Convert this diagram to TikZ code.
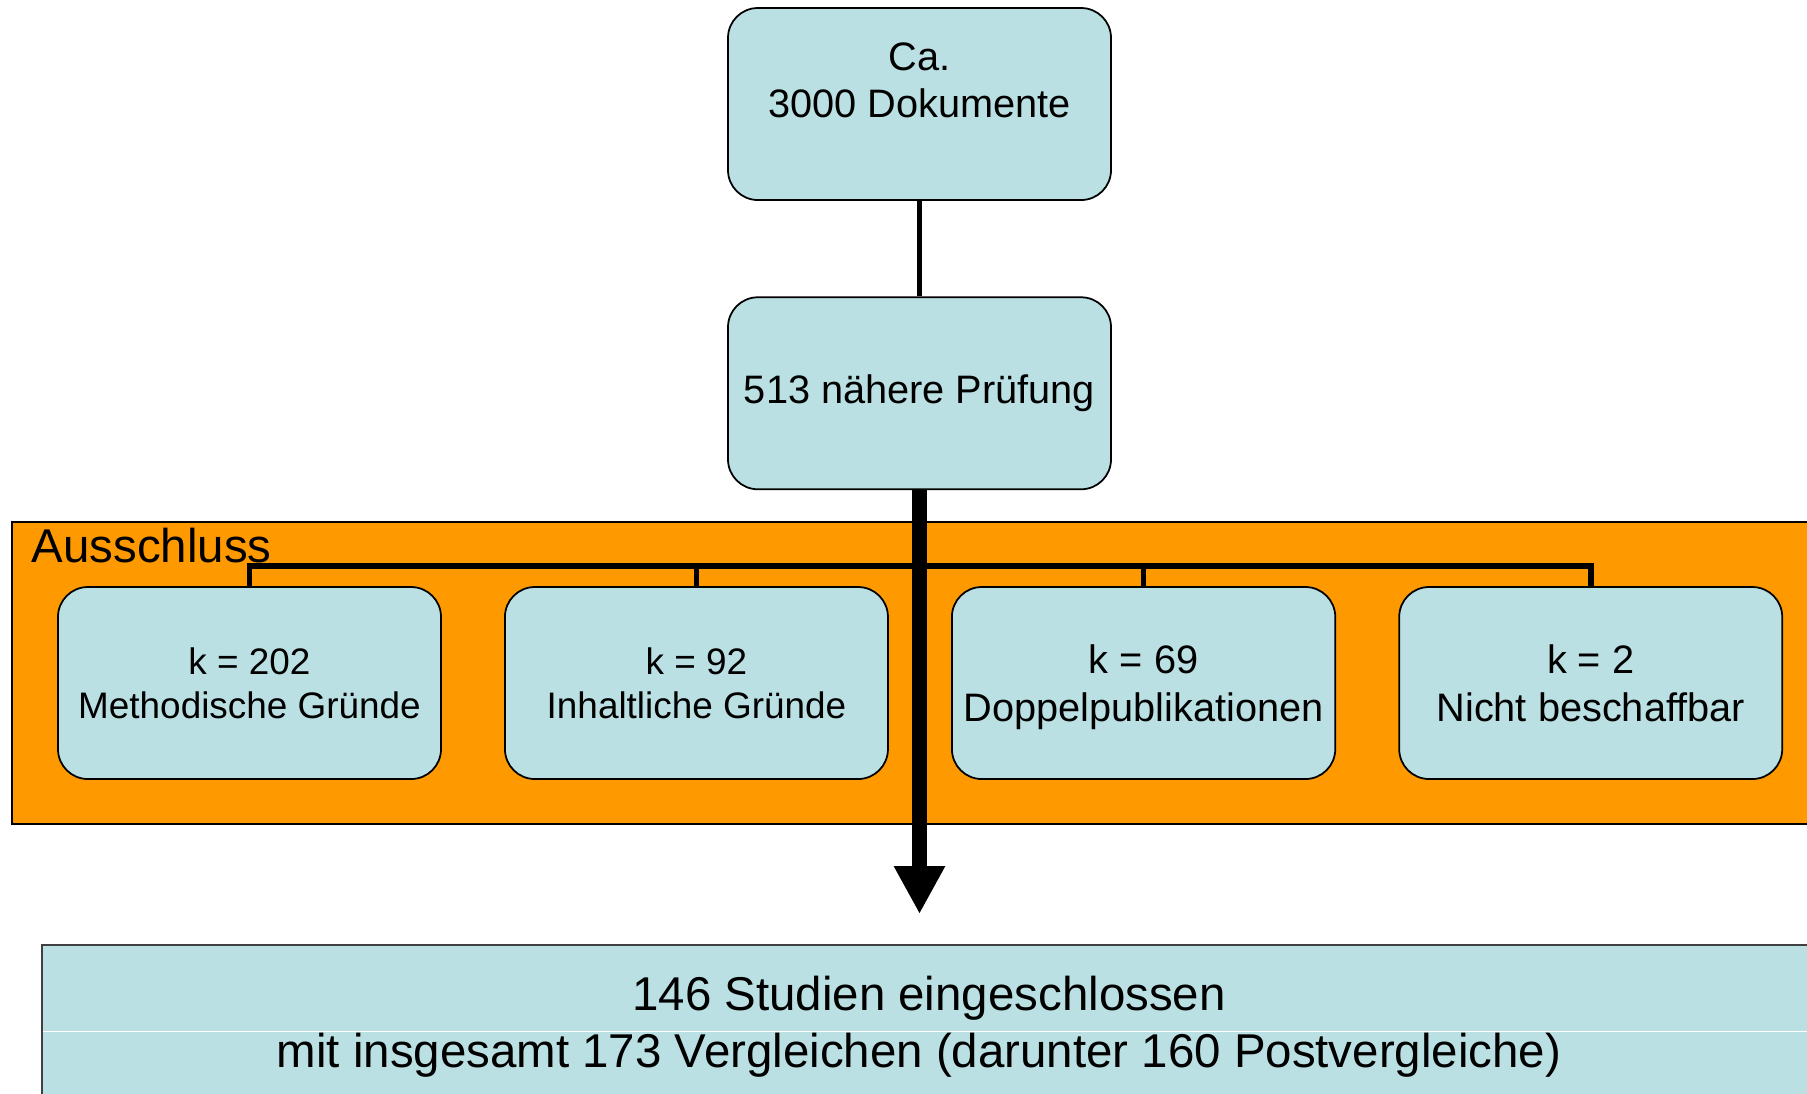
\documentclass[tikz,border=0pt]{standalone}
\usepackage{fontspec}
\setmainfont{Liberation Sans}
\usetikzlibrary{positioning,arrows.meta}
\definecolor{boxblue}{HTML}{BAE0E3}
\definecolor{exclorange}{HTML}{FF9900}

\begin{document}
\begin{tikzpicture}[
  stage/.style={draw, fill=boxblue, rounded corners=8.5pt, minimum width=3.83cm, minimum height=1.92cm, align=center, line width=0.5pt, font=\fontsize{11.3}{13.5}\selectfont},
  reason/.style={stage, text depth=0pt},
  reasonsm/.style={reason, font=\fontsize{10.5}{12.6}\selectfont},
  big/.style={font=\fontsize{13.5}{16}\selectfont, inner sep=0pt},
  tree/.style={line width=1.6pt},
  flow/.style={line width=4.4pt, -{Triangle[width=0.48cm, length=0.48cm]}},
  node distance=0.955cm]
  \clip (0,0) rectangle (18.07,-10.93);
  % Ausschluss-Bereich
  \draw[fill=exclorange, line width=0.4pt] (0.12,-5.22) rectangle (18.4,-8.24);
  \node[big, anchor=base west] (aus) at (0.31,-5.62) {Ausschluss};
  \node[stage] (docs) at (9.195,-1.04) {Ca.\\3000 Dokumente\\\mbox{}};
  \node[stage, below=of docs] (pruef) {513 nähere Prüfung};
  \node[reasonsm] (meth) at (2.495,-6.83) {k = 202\\Methodische Gründe};
  \node[reasonsm, right=0.622cm of meth] (inh) {k = 92\\Inhaltliche Gründe};
  \node[reason, right=0.622cm of inh] (dopp) {k = 69\\Doppelpublikationen};
  \node[reason, right=0.622cm of dopp] (nicht) {k = 2\\Nicht beschaffbar};
  \coordinate (bus) at (0,-5.66);
  \coordinate (tip) at (0,-9.14);
  % Baum
  \draw[tree] (docs) -- (pruef);
  \draw[tree] (pruef.south) -- (pruef.south |- bus);
  \draw[tree] (meth.north) |- (nicht.north |- bus) -- (nicht.north);
  \draw[tree] (inh.north) -- (inh.north |- bus);
  \draw[tree] (dopp.north) -- (dopp.north |- bus);
  \draw[flow] (pruef.south) -- (pruef.south |- tip);
  % Ergebnis
  \fill[boxblue] (0.42,-9.45) rectangle (18.4,-11.2);
  \draw[black!75, line width=0.5pt] (18.4,-9.45) -- (0.42,-9.45) -- (0.42,-11.2);
  \draw[white, line width=0.3pt] (0.43,-10.31) -- (18.4,-10.31);
  \node[big, anchor=base] (incl) at (9.29,-10.10) {146 Studien eingeschlossen};
  \node[big, anchor=base] (vgl) at (9.19,-10.67) {mit insgesamt 173 Vergleichen (darunter 160 Postvergleiche)};
\end{tikzpicture}
\end{document}
